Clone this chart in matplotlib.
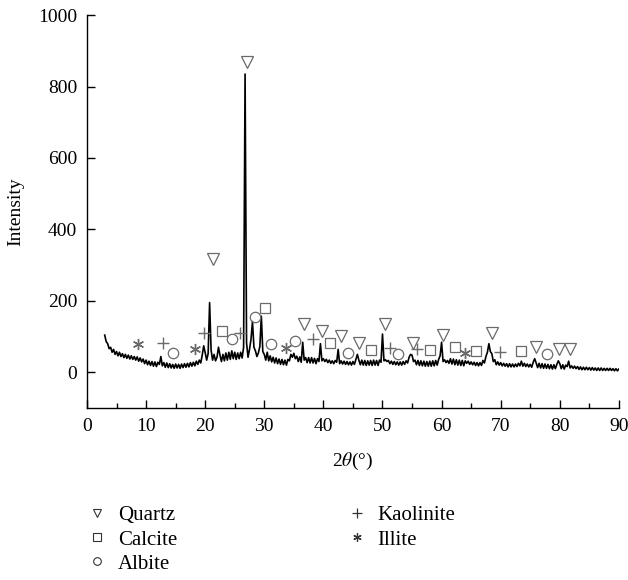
import numpy as np
import matplotlib
matplotlib.use('Agg')
import matplotlib.pyplot as plt
from matplotlib.lines import Line2D

plt.rcParams['font.family'] = ['Liberation Serif', 'DejaVu Serif']
plt.rcParams['mathtext.fontset'] = 'stix'

# XRD scan, 2theta from 3 to 90 deg in 0.25 deg steps
two_theta = np.arange(3.0, 90.001, 0.25)
intensity = [
    104, 86, 80, 66, 70, 56, 64, 50, 58, 46, 56, 44, 52, 41, 50, 39, 48, 37, 46, 36,    # 3-7.75
    44, 34, 43, 31, 40, 29, 37, 24, 34, 21, 31, 19, 30, 17, 29, 16, 28, 22, 44, 18,    # 8-12.75
    27, 14, 26, 13, 24, 12, 22, 11, 23, 12, 22, 11, 23, 13, 24, 14, 25, 15, 27, 17,    # 13-17.75
    28, 18, 31, 22, 34, 26, 48, 74, 55, 34, 52, 195, 62, 34, 50, 32, 42, 70, 48, 30,   # 18-22.75
    50, 32, 54, 34, 56, 36, 60, 38, 56, 36, 54, 38, 56, 40, 70, 835, 82, 42, 64, 92,   # 23-27.75
    142, 70, 60, 44, 54, 72, 157, 58, 50, 34, 56, 32, 46, 29, 42, 26, 40, 24, 37, 22,  # 28-32.75
    36, 21, 34, 20, 36, 32, 50, 42, 53, 38, 45, 30, 43, 28, 84, 34, 41, 27, 41, 26,    # 33-37.75
    41, 26, 39, 24, 38, 30, 80, 32, 38, 30, 36, 27, 34, 25, 32, 24, 33, 28, 64, 24,    # 38-42.75
    32, 23, 31, 22, 30, 21, 29, 20, 30, 22, 36, 50, 34, 21, 34, 20, 33, 19, 32, 20,    # 43-47.75
    33, 19, 34, 20, 33, 19, 34, 28, 107, 32, 35, 30, 33, 24, 31, 22, 30, 21, 29, 20,   # 48-52.75
    29, 20, 30, 22, 32, 26, 42, 50, 48, 30, 34, 21, 33, 19, 32, 18, 31, 17, 30, 17,    # 53-57.75
    31, 17, 32, 18, 33, 20, 36, 46, 84, 30, 35, 27, 33, 25, 38, 23, 37, 21, 35, 20,    # 58-62.75
    34, 19, 33, 18, 32, 25, 31, 22, 29, 21, 28, 19, 27, 18, 27, 19, 33, 26, 44, 56,    # 63-67.75
    80, 58, 52, 30, 35, 21, 29, 20, 27, 18, 25, 17, 24, 15, 24, 15, 23, 15, 23, 16,    # 68-72.75
    25, 18, 31, 17, 25, 16, 23, 15, 22, 14, 28, 38, 26, 13, 25, 12, 24, 11, 23, 11,    # 73-77.75
    22, 10, 21, 9, 21, 10, 22, 32, 24, 10, 21, 9, 20, 16, 31, 12, 18, 11, 17, 10,      # 78-82.75
    16, 8, 15, 7, 14, 7, 14, 7, 13, 6, 13, 6, 12, 5, 12, 5, 12, 5, 11, 5,              # 83-87.75
    11, 5, 11, 5, 10, 4, 10, 4, 9,                                                     # 88-90
]

# phase labels (2theta, height where the symbol sits)
quartz_x = [21.3, 27.1, 36.7, 39.8, 43.0, 46.0, 50.4, 55.2, 60.2, 68.5, 76.0, 79.9, 81.7]
quartz_y = [316, 869, 134, 115, 101, 81, 134, 81, 103, 109, 70, 64, 64]
calcite_x = [22.8, 30.1, 41.1, 48.0, 58.0, 62.3, 65.8, 73.4]
calcite_y = [115, 179, 81, 61, 61, 70, 59, 59]
albite_x = [14.6, 24.6, 28.4, 31.1, 35.2, 44.2, 52.7, 77.9]
albite_y = [55, 92, 156, 78, 87, 55, 52, 52]
kaolinite_x = [12.9, 19.8, 25.9, 38.2, 51.3, 55.8, 69.9]
kaolinite_y = [81, 111, 111, 92, 69, 64, 57]
illite_x = [8.7, 18.3, 33.7, 64.0]
illite_y = [78, 64, 67, 55]

gray = '#6a6a6a'
asterisk = (6, 2, 0)

fig = plt.figure(figsize=(6.28, 5.8), dpi=100)
ax = fig.add_axes([0.1385, 0.2966, 0.847, 0.6774])

ax.plot(two_theta, intensity, color='black', lw=1.2)

mk = dict(ls='none', mfc='none', mec=gray, mew=0.9)
ax.plot(quartz_x, quartz_y, marker='v', ms=8, **mk)
ax.plot(calcite_x, calcite_y, marker='s', ms=7, **mk)
ax.plot(albite_x, albite_y, marker='o', ms=7.5, **mk)
ax.plot(kaolinite_x, kaolinite_y, marker='+', ms=9, color=gray, ls='none', mew=1.0)
ax.plot(illite_x, illite_y, marker=asterisk, ms=8, color=gray, ls='none', mew=1.0)

ax.set_xlim(0, 90)
ax.set_ylim(-100, 1000)
ax.set_xticks(np.arange(0, 91, 10))
ax.set_xticks(np.arange(5, 90, 10), minor=True)
ax.set_yticks(np.arange(0, 1001, 200))
ax.set_yticks(np.arange(-100, 1000, 100)[1::2], minor=True)
ax.spines['top'].set_visible(False)
ax.spines['right'].set_visible(False)
for s in ['left', 'bottom']:
    ax.spines[s].set_linewidth(1.0)
ax.tick_params(which='major', direction='in', length=6, width=1.0, labelsize=14, pad=7)
ax.tick_params(which='minor', direction='in', length=3.5, width=1.0)

ax.set_xlabel(r'2$\theta$(°)', fontsize=14, labelpad=12)
ax.set_ylabel('Intensity', fontsize=14, labelpad=10)

def handle(**kw):
    return Line2D([], [], ls='none', **kw)

h_left = [handle(marker='v', ms=6, mfc='none', mec='#333', mew=0.8),
          handle(marker='s', ms=5.5, mfc='none', mec='#333', mew=0.8),
          handle(marker='o', ms=5.5, mfc='none', mec='#333', mew=0.8)]
h_right = [handle(marker='+', ms=7, color='#333', mew=0.9),
           handle(marker=asterisk, ms=6, color='#333', mew=0.9)]

leg_kw = dict(loc='upper left', frameon=False, fontsize=15, borderpad=0,
              borderaxespad=0, handlelength=0.8, handletextpad=0.6, labelspacing=0.22)
fig.legend(h_left, ['Quartz', 'Calcite', 'Albite'], bbox_to_anchor=(0.141, 0.128), **leg_kw)
fig.legend(h_right, ['Kaolinite', 'Illite'], bbox_to_anchor=(0.555, 0.128), **leg_kw)

fig.savefig('out.png', dpi=100)
